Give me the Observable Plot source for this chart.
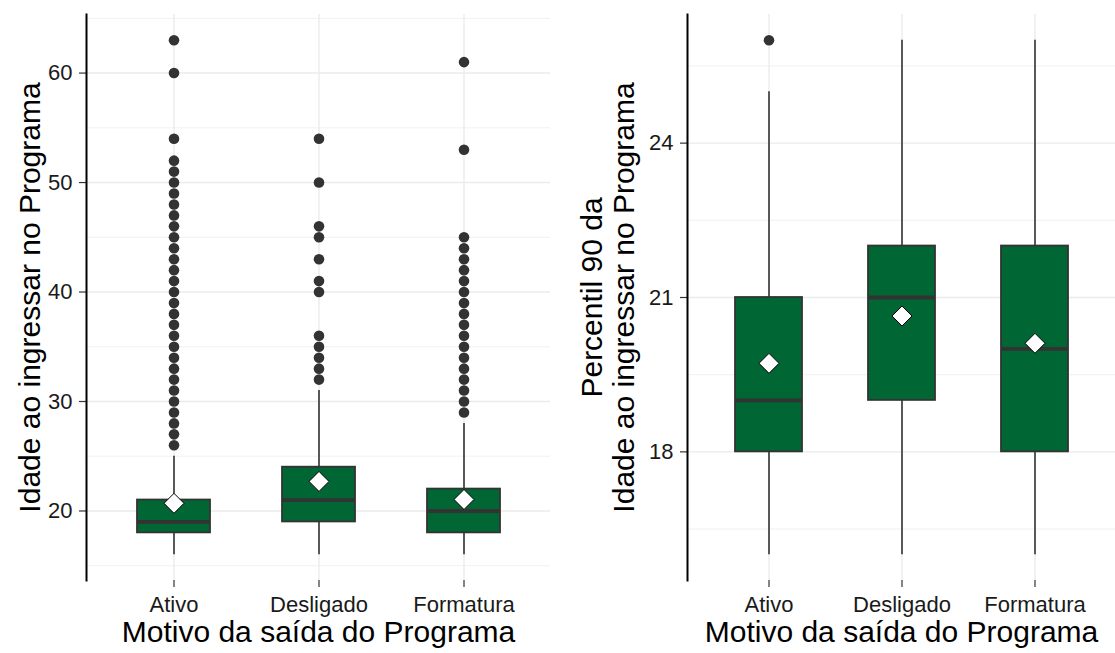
<!DOCTYPE html>
<html>
<head>
<meta charset="utf-8">
<script src="https://cdn.jsdelivr.net/npm/d3@7"></script>
<script src="https://cdn.jsdelivr.net/npm/@observablehq/plot@0.6"></script>
<style>
  html, body { margin: 0; padding: 0; background: #fff; }
  #wrap { position: relative; width: 1115px; height: 653px; overflow: hidden; }
  #left { position: absolute; left: 0; top: 0; }
  #right { position: absolute; left: 560px; top: 0; }
  svg { overflow: visible; }
</style>
</head>
<body>
<div id="wrap"><div id="left"></div><div id="right"></div></div>
<script>
// ---------- data ----------
const categories = ["Ativo", "Desligado", "Formatura"];

// Left panel: Idade ao ingressar no Programa
const leftWhiskerLow  = [16, 16, 16];
const leftQ1          = [18, 19, 18];
const leftMedian      = [19, 21, 20];
const leftQ3          = [21, 24, 22];
const leftWhiskerHigh = [25, 31, 28];
const leftMean        = [20.7, 22.7, 21.05];
const leftOutliersAtivo = [26,27,28,29,30,31,32,33,34,35,36,37,38,39,40,41,42,43,44,45,46,47,48,49,50,51,52,54,60,63];
const leftOutliersDesligado = [32,33,34,35,36,40,41,43,45,46,50,54];
const leftOutliersFormatura = [29,30,31,32,33,34,35,36,37,38,39,40,41,42,43,44,45,53,61];
const leftTicks = [20, 30, 40, 50, 60];
const leftMinor = [15, 25, 35, 45, 55, 65];

// Right panel: Percentil 90 da idade
const rightWhiskerLow  = [16, 16, 16];
const rightQ1          = [18, 19, 18];
const rightMedian      = [19, 21, 20];
const rightQ3          = [21, 22, 22];
const rightWhiskerHigh = [25, 26, 26];
const rightMean        = [19.72, 20.64, 20.11];
const rightOutliersAtivo = [26];
const rightOutliersDesligado = [];
const rightOutliersFormatura = [];
const rightTicks = [18, 21, 24];
const rightMinor = [16.5, 19.5, 22.5, 25.5];

const xTitle = "Motivo da saída do Programa";
const leftYTitle = "Idade ao ingressar no Programa";
const rightYTitle = "Percentil 90 da\nIdade ao ingressar no Programa";

// ---------- helpers ----------
function buildStats(lo, q1, med, q3, hi, mean) {
  return categories.map((c, i) => ({cat: c, lo: lo[i], q1: q1[i], med: med[i], q3: q3[i], hi: hi[i], mean: mean[i]}));
}
function buildOutliers(lists) {
  const out = [];
  categories.forEach((c, i) => lists[i].forEach(v => out.push({cat: c, v})));
  return out;
}

const FONT = "'Liberation Sans', Arial, sans-serif";
const FILL = "#006633";
const DARK = "#333333";
const GRID = "#EBEBEB";
const TXT = "#1a1a1a";

function panel({width, marginLeft, marginRight, yDomain, ticks, minor, stats, outliers, yTitle, yTitleDx}) {
  return Plot.plot({
    width, height: 653,
    marginLeft, marginRight, marginTop: 14, marginBottom: 73,
    style: {fontFamily: FONT, background: "white", color: TXT},
    x: {type: "band", domain: categories, paddingInner: 0.5, paddingOuter: 0.35, axis: null},
    y: {domain: yDomain, axis: null},
    marks: [
      Plot.gridY(minor, {stroke: GRID, strokeOpacity: 1, strokeWidth: 0.7}),
      Plot.gridY(ticks, {stroke: GRID, strokeOpacity: 1, strokeWidth: 1.4}),
      Plot.gridX(categories, {stroke: GRID, strokeOpacity: 1, strokeWidth: 1.4}),
      Plot.ruleX(stats, {x: "cat", y1: "lo", y2: "q1", stroke: DARK, strokeWidth: 1.6}),
      Plot.ruleX(stats, {x: "cat", y1: "q3", y2: "hi", stroke: DARK, strokeWidth: 1.6}),
      Plot.barY(stats, {x: "cat", y1: "q1", y2: "q3", fill: FILL, stroke: DARK, strokeWidth: 1.8}),
      Plot.tickY(stats, {x: "cat", y: "med", stroke: DARK, strokeWidth: 3.8}),
      Plot.dot(outliers, {x: "cat", y: "v", r: 5.3, fill: DARK, stroke: "none"}),
      Plot.dot(stats, {x: "cat", y: "mean", symbol: "diamond2", r: 9, fill: "white", stroke: "black", strokeWidth: 1}),
      Plot.axisY(ticks, {tickSize: 7, tickPadding: 7, fontSize: 22, stroke: DARK, strokeWidth: 1.2, fill: TXT, label: null, tickFormat: d3.format("d")}),
      Plot.axisX(categories, {tickSize: 7, tickPadding: 9, fontSize: 22, stroke: DARK, strokeWidth: 1.2, fill: TXT, label: null}),
      Plot.frame({anchor: "left", stroke: "black", strokeWidth: 2}),
      Plot.text([xTitle], {frameAnchor: "bottom", dy: 52, fontSize: 30, fill: "black", textAnchor: "middle", lineAnchor: "middle"}),
      Plot.text([yTitle], {frameAnchor: "left", dx: yTitleDx, rotate: -90, fontSize: 30, fill: "black", textAnchor: "middle", lineAnchor: "middle", lineHeight: 1.07})
    ]
  });
}

document.getElementById("left").appendChild(panel({
  width: 560, marginLeft: 86, marginRight: 10,
  yDomain: [13.65, 65.35], ticks: leftTicks, minor: leftMinor,
  stats: buildStats(leftWhiskerLow, leftQ1, leftMedian, leftQ3, leftWhiskerHigh, leftMean),
  outliers: buildOutliers([leftOutliersAtivo, leftOutliersDesligado, leftOutliersFormatura]),
  yTitle: leftYTitle, yTitleDx: -57
}));

document.getElementById("right").appendChild(panel({
  width: 555, marginLeft: 127, marginRight: 0,
  yDomain: [15.5, 26.5], ticks: rightTicks, minor: rightMinor,
  stats: buildStats(rightWhiskerLow, rightQ1, rightMedian, rightQ3, rightWhiskerHigh, rightMean),
  outliers: buildOutliers([rightOutliersAtivo, rightOutliersDesligado, rightOutliersFormatura]),
  yTitle: rightYTitle, yTitleDx: -80
}));
</script>
</body>
</html>
